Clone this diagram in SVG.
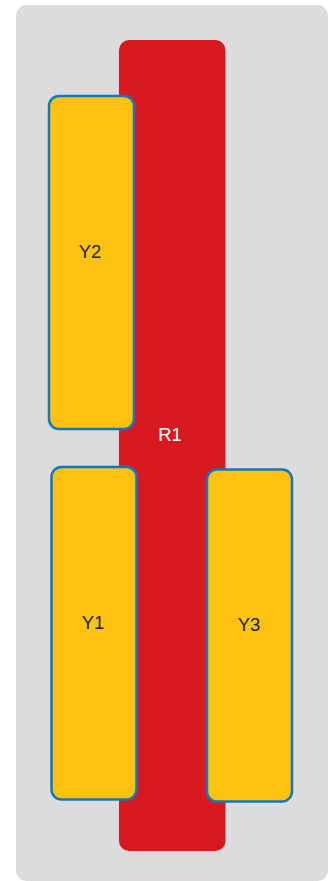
<svg xmlns="http://www.w3.org/2000/svg" width="328" height="881" viewBox="0 0 328 881">
<style>
.y{fill:#FEC312;stroke:#1178C0;stroke-width:2.5}
.t{font-family:"Liberation Sans",Arial,sans-serif;font-size:18.5px;text-anchor:middle;dominant-baseline:central;fill:#231F20}
</style>
<rect x="16" y="5" width="312" height="876" rx="11" fill="#DBDCDE"/>
<g id="R1">
<rect x="119" y="40" width="106.5" height="811" rx="10" fill="#D71920"/>
<text class="t" x="170" y="434" style="fill:#fff">R1</text>
</g>
<g id="Y2">
<rect class="y" x="49" y="96" width="85" height="333" rx="10"/>
<text class="t" x="90" y="251">Y2</text>
</g>
<g id="Y1">
<rect class="y" x="51.5" y="467" width="85" height="332.5" rx="10"/>
<text class="t" x="93" y="622">Y1</text>
</g>
<g id="Y3">
<rect class="y" x="207" y="469.5" width="85" height="332" rx="10"/>
<text class="t" x="249" y="624">Y3</text>
</g>
<g id="connectors"/>
</svg>
